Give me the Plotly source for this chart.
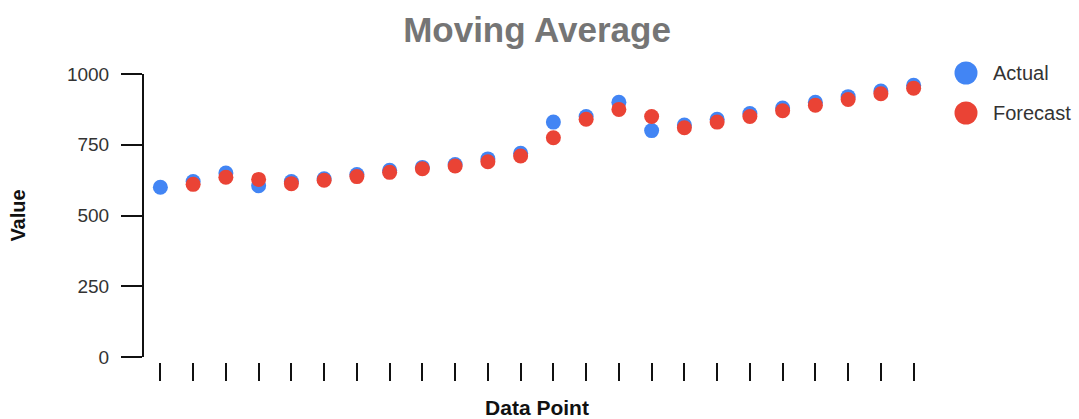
import plotly.graph_objects as go

# Observed values and two-point moving-average forecast
points = list(range(1, 25))
actual = [600, 620, 650, 605, 620, 630, 645, 660, 670, 680, 700, 720,
          830, 850, 900, 800, 820, 840, 860, 880, 900, 920, 940, 960]
forecast = [None, 610, 635, 627.5, 612.5, 625, 637.5, 652.5, 665, 675, 690, 710,
            775, 840, 875, 850, 810, 830, 850, 870, 890, 910, 930, 950]
y_ticks = [0, 250, 500, 750, 1000]
series_names = ["Actual", "Forecast"]

BLUE = "#4285F4"
RED = "#EA4335"
FONT = "Liberation Sans, Arial, sans-serif"

# plot area geometry in pixels
W, H = 1079, 419
L, R, T, B = 144, 149, 74, 57
PW, PH = W - L - R, H - T - B

fig = go.Figure()
for name, vals, col in zip(series_names, [actual, forecast], [BLUE, RED]):
    fig.add_trace(go.Scatter(
        x=points, y=vals, name=name, mode="markers",
        marker=dict(color=col, size=15), showlegend=False,
    ))

# legend with large round swatches
shapes, annotations = [], []
for i, (name, col) in enumerate(zip(series_names, [BLUE, RED])):
    py = 73 + 40 * i
    yp = (H - B - py) / PH
    shapes.append(dict(
        type="circle", xref="paper", yref="paper",
        xsizemode="pixel", ysizemode="pixel",
        xanchor=(966 - L) / PW, yanchor=yp,
        x0=-11.5, x1=11.5, y0=-11.5, y1=11.5,
        fillcolor=col, line=dict(width=0),
    ))
    annotations.append(dict(
        text=name, xref="paper", yref="paper",
        x=(991 - L) / PW, y=yp, xanchor="left", yanchor="middle",
        showarrow=False, font=dict(size=20, color="#333333", family=FONT),
    ))

fig.update_layout(
    width=W, height=H,
    margin=dict(l=L, r=R, t=T, b=B, autoexpand=False),
    paper_bgcolor="white", plot_bgcolor="white",
    font=dict(family=FONT, color="#222222", size=18),
    title=dict(
        text="<b>Moving Average</b>", x=0.5, xref="paper", xanchor="center",
        y=0.93, yanchor="middle",
        font=dict(size=35, color="#757575", family=FONT),
    ),
    shapes=shapes,
    annotations=annotations,
    xaxis=dict(
        range=[0.5, 24.5], tickvals=points, ticktext=[""] * len(points),
        ticks="outside", ticklen=18, tickwidth=2, tickcolor="#111111",
        showline=False, showgrid=False, zeroline=False,
        anchor="free", position=0, automargin=False,
        title=dict(text="<b>Data Point</b>", font=dict(size=21, color="#111111"),
                   standoff=22),
    ),
    yaxis=dict(
        range=[0, 1000], tickvals=y_ticks, domain=[5 / PH, 1],
        ticks="outside", ticklen=21, tickwidth=2, tickcolor="#111111",
        showline=True, linecolor="#111111", linewidth=2,
        showgrid=False, zeroline=False, automargin=False,
        ticklabelstandoff=8,
        tickfont=dict(size=19, color="#333333"),
        title=dict(text="<b>Value</b>", font=dict(size=20, color="#111111"),
                   standoff=36),
    ),
)

fig.write_html("out.html")
